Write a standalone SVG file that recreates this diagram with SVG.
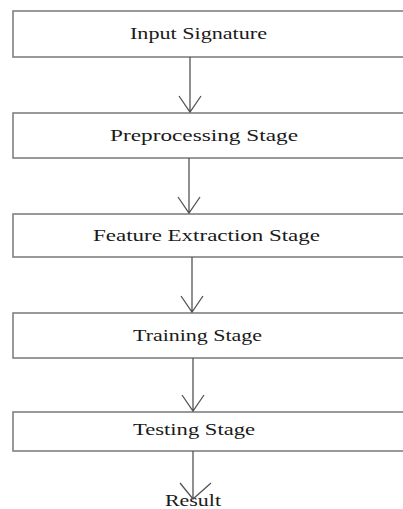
<svg xmlns="http://www.w3.org/2000/svg" width="403" height="509" viewBox="0 0 403 509">
  <defs>
    <style>
      .box { fill: #ffffff; stroke: #808080; stroke-width: 1.6; }
      .lbl { font-family: "Liberation Serif", "Times New Roman", serif; font-size: 16px; fill: #1a1a1a; }
      .edge { fill: none; stroke: #555555; stroke-width: 1.3; }
    </style>
  </defs>
  <rect width="403" height="509" fill="#ffffff"/>

  <g id="input-signature">
    <rect class="box" x="13" y="11" width="400" height="46"/>
    <text class="lbl" x="130" y="39" textLength="137" lengthAdjust="spacingAndGlyphs">Input Signature</text>
  </g>
  <g id="preprocessing">
    <rect class="box" x="13" y="113" width="400" height="45"/>
    <text class="lbl" x="110" y="141" textLength="188" lengthAdjust="spacingAndGlyphs">Preprocessing Stage</text>
  </g>
  <g id="feature-extraction">
    <rect class="box" x="13" y="214" width="400" height="43"/>
    <text class="lbl" x="93" y="241" textLength="227" lengthAdjust="spacingAndGlyphs">Feature Extraction Stage</text>
  </g>
  <g id="training">
    <rect class="box" x="13" y="313" width="400" height="45"/>
    <text class="lbl" x="133" y="341" textLength="129" lengthAdjust="spacingAndGlyphs">Training Stage</text>
  </g>
  <g id="testing">
    <rect class="box" x="13" y="412" width="400" height="39"/>
    <text class="lbl" x="133" y="435" textLength="122" lengthAdjust="spacingAndGlyphs">Testing Stage</text>
  </g>
  <g id="result">
    <text class="lbl" x="165" y="506" textLength="56" lengthAdjust="spacingAndGlyphs">Result</text>
  </g>

  <g id="connectors">
    <path class="edge" d="M190 57 V112 M179 96 L190 112 L201 96"/>
    <path class="edge" d="M189 158 V213 M178 197 L189 213 L200 197"/>
    <path class="edge" d="M192 257 V312 M181 296 L192 312 L203 296"/>
    <path class="edge" d="M193 358 V411 M182 395 L193 411 L204 395"/>
    <path class="edge" d="M193 451 V499 M180 483 L193 499 L211 483"/>
  </g>
</svg>
